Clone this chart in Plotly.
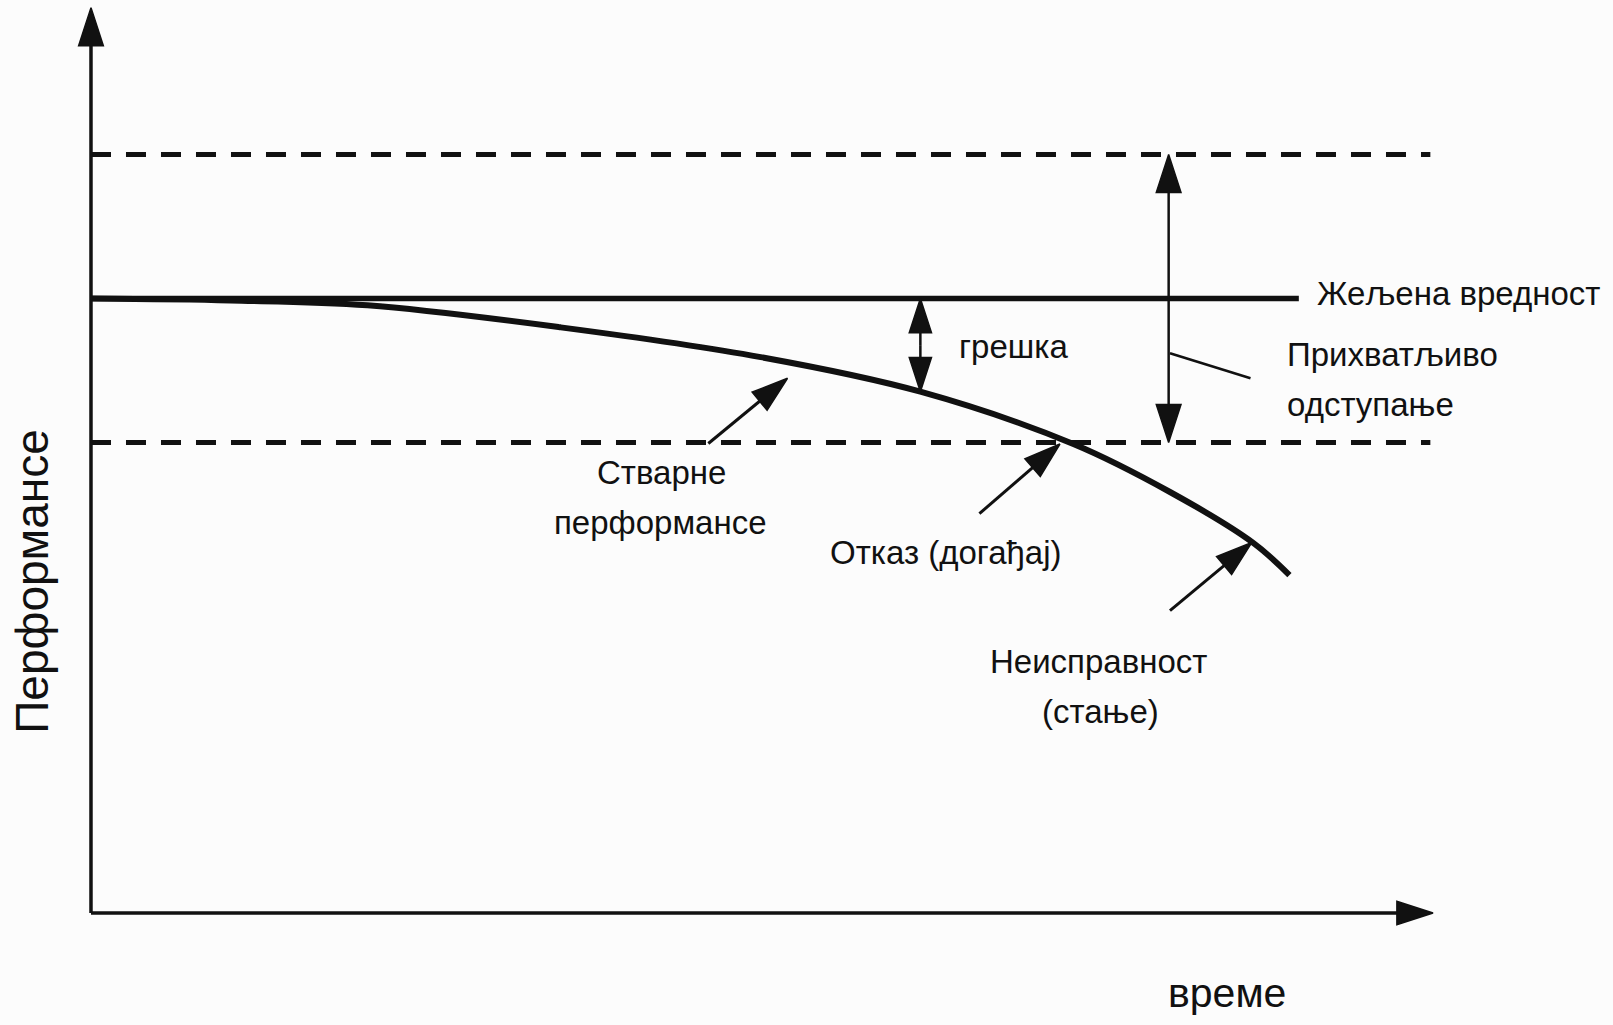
import plotly.graph_objects as go

# ---- data (schematic units: time 0..100, performance 0..~94) ----
time_pts = [0, 10.4, 20.6, 35.0, 49.9, 61.8, 73.2, 80.4, 86.6, 89.3]
perf_pts = [64.0, 63.8, 63.3, 61.0, 57.9, 54.3, 48.85, 43.85, 38.55, 35.2]

desired_level = 64
upper_limit = 79
lower_limit = 49
desired_end = 90
limits_end = 99.8
x_axis_end = 100
y_axis_end = 94.3

error_t = 61.8                  # "грешка" double arrow position
error_bottom = 54.3
tolerance_t = 80.3              # "Прихватљиво одступање" double arrow position
leader_t = [80.4, 86.4]
leader_p = [58.3, 55.7]

# label pointer arrows: (tail_t, tail_p, tip_t, tip_p)
actual_arrow = [46.0, 48.9, 51.9, 55.7]
failure_arrow = [66.2, 41.6, 72.2, 48.85]
fault_arrow = [80.4, 31.5, 86.5, 38.6]

# text labels: (text, t, p, anchor, size)
text_items = [
    ("Жељена вредност", 91.2, 64.5, "left", 33),
    ("грешка", 64.5, 59.0, "left", 33),
    ("Прихватљиво", 89.0, 58.2, "left", 33),
    ("одступање", 89.0, 53.0, "left", 33),
    ("Стварне", 42.5, 45.9, "center", 33),
    ("перформансе", 42.45, 40.7, "center", 33),
    ("Отказ (догађај)", 54.9, 37.6, "left", 33),
    ("Неисправност", 75.1, 26.15, "center", 33),
    ("(стање)", 75.2, 21.0, "center", 33),
    ("време", 84.65, -8.3, "center", 41),
]
y_title = ("Перформансе", -4.4, 34.5, 46)

X_RANGE = [-6.78, 113.41]
Y_RANGE = [-11.67, 95.1]

FONT = "Liberation Sans, Arial, sans-serif"
INK = "#111111"

fig = go.Figure()


def line(xs, ys, width=3, dash=None):
    fig.add_trace(go.Scatter(x=xs, y=ys, mode="lines",
                             line=dict(color=INK, width=width, dash=dash),
                             hoverinfo="skip", showlegend=False))


def arrow(x0, y0, x1, y1, width=3, head=38):
    fig.add_trace(go.Scatter(
        x=[x0, x1], y=[y0, y1], mode="lines+markers",
        line=dict(color=INK, width=width),
        marker=dict(symbol="arrow", size=[0, head], color=INK, opacity=1,
                    angleref="previous", line=dict(width=1.5, color=INK)),
        opacity=1,
        hoverinfo="skip", showlegend=False))


# reference levels
line([0, limits_end], [upper_limit, upper_limit], width=5, dash="20px,15px")
line([0, limits_end], [lower_limit, lower_limit], width=5, dash="20px,15px")
line([0, desired_end], [desired_level, desired_level], width=5.5)

# actual performance curve
fig.add_trace(go.Scatter(x=time_pts, y=perf_pts, mode="lines",
                         line=dict(color=INK, width=6, shape="spline", smoothing=1.0),
                         hoverinfo="skip", showlegend=False))

# axes with arrows
arrow(0, 0, 0, y_axis_end, width=3.5, head=40)
arrow(0, 0, x_axis_end, 0, width=3.5, head=38)

# error double arrow
mid_e = (desired_level + error_bottom) / 2
arrow(error_t, mid_e, error_t, desired_level, width=2.5, head=36)
arrow(error_t, mid_e, error_t, error_bottom, width=2.5, head=36)

# tolerance double arrow
mid_t = (upper_limit + lower_limit) / 2
arrow(tolerance_t, mid_t, tolerance_t, upper_limit, width=2.5, head=40)
arrow(tolerance_t, mid_t, tolerance_t, lower_limit, width=2.5, head=40)
line(leader_t, leader_p, width=2.5)

# label pointers
for a in (actual_arrow, failure_arrow, fault_arrow):
    arrow(a[0], a[1], a[2], a[3], width=3, head=38)

for s, x, y, anchor, size in text_items:
    fig.add_annotation(x=x, y=y, text=s, showarrow=False, xanchor=anchor,
                       yanchor="middle", font=dict(family=FONT, size=size, color=INK))

fig.add_annotation(x=y_title[1], y=y_title[2], text=y_title[0], showarrow=False,
                   xanchor="center", yanchor="middle", textangle=-90,
                   font=dict(family=FONT, size=y_title[3], color=INK))

fig.update_layout(
    width=1613, height=1025,
    margin=dict(l=0, r=0, t=0, b=0),
    paper_bgcolor="#fcfcfc", plot_bgcolor="#fcfcfc",
    xaxis=dict(range=X_RANGE, visible=False, fixedrange=True),
    yaxis=dict(range=Y_RANGE, visible=False, fixedrange=True),
    showlegend=False,
)

fig.write_html("out.html", config={"displayModeBar": False},
               post_script="document.body.style.margin='0';document.body.style.overflow='hidden';")
